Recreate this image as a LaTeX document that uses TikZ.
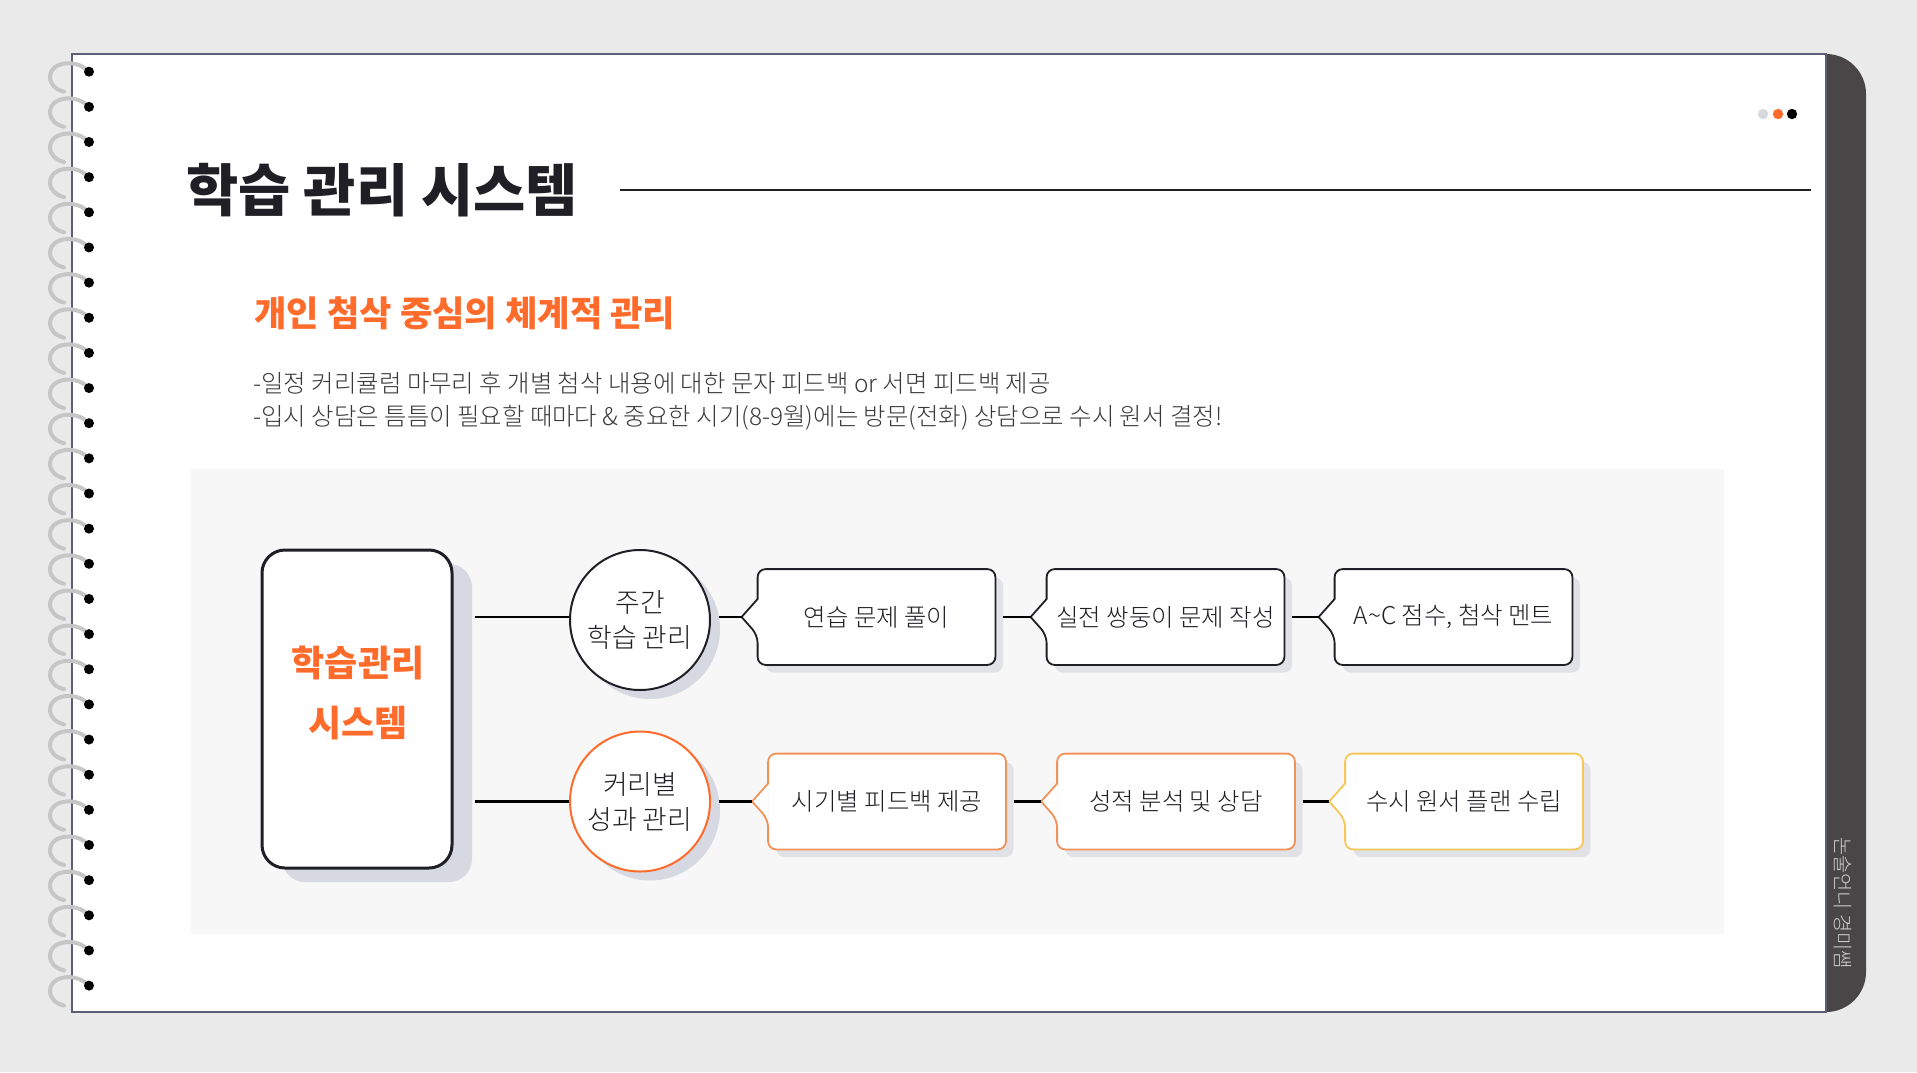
\documentclass[tikz,border=0pt]{standalone}
\usepackage{fontspec}
\setmainfont{Noto Sans CJK KR}
\IfFontExistsTF{Noto Sans CJK KR Light}
  {\newfontfamily\lightfont{Noto Sans CJK KR Light}}
  {\newfontfamily\lightfont{Noto Sans CJK KR}}
\usetikzlibrary{shadows}
\definecolor{bggrey}{HTML}{EAEAEA}
\definecolor{pageline}{HTML}{5C5E78}
\definecolor{tabdark}{HTML}{4A4546}
\definecolor{tabtext}{HTML}{D2CECE}
\definecolor{ringgrey}{HTML}{C6C6C6}
\definecolor{ink}{HTML}{1F1F25}
\definecolor{bodyink}{HTML}{3A3A3A}
\definecolor{accent}{HTML}{FF6B2B}
\definecolor{accentsoft}{HTML}{F0925A}
\definecolor{accentgold}{HTML}{F6C657}
\definecolor{panelfill}{HTML}{F8F7F8}
\definecolor{shadowfill}{HTML}{D6D9E1}
\definecolor{boxshadow}{HTML}{E1E2E6}
\definecolor{dotgrey}{HTML}{D8D9DE}
\tikzset{
  sysblk/.style = {rectangle, rounded corners=11.5pt, draw=ink, fill=white, line width=1.5pt,
                   minimum width=95pt, minimum height=159pt,
                   general shadow={fill=shadowfill, shadow xshift=10pt, shadow yshift=-7pt}},
  hub/.style    = {circle, draw=ink, fill=white, line width=1pt, minimum size=70pt, inner sep=0pt,
                   align=center, font=\lightfont\fontsize{13.4}{17.5}\selectfont, text=ink,
                   general shadow={fill=shadowfill, shadow xshift=5pt, shadow yshift=-4.5pt}},
  taskbox/.style= {rectangle, rounded corners=4pt, fill=white, minimum width=118.5pt,
                   minimum height=47.5pt, inner sep=0pt, font=\lightfont\fontsize{12.2}{14}\selectfont, text=ink,
                   general shadow={fill=boxshadow, shadow xshift=4pt, shadow yshift=-4pt}},
  wire/.style   = {line width=1.25pt, draw=black},
}
\begin{document}
\begin{tikzpicture}[x=0.5pt, y=-0.5pt]
  \fill[bggrey] (0,0) rectangle (1917,1072);
  \useasboundingbox (0,0) rectangle (1917,1072);
  % notebook page
  \fill[tabdark, rounded corners=20pt] (1780,54) rectangle (1866,1012);
  \filldraw[fill=white, draw=pageline, line width=1pt] (72,54) rectangle (1826,1012);
  \foreach \i in {0,...,26}{
    \pgfmathsetmacro\ry{71.7+35.15*\i}
    \draw[ringgrey, line width=2pt, line cap=round] (88,\ry) .. controls (80,\ry-12) and (51,\ry-12) .. (50,\ry+5)
      .. controls (50,\ry+13) and (56,\ry+18) .. (64,\ry+20);
    \fill[black] (89,\ry) circle (2.5pt);
  }
  \fill[dotgrey] (1763,114) circle (2.6pt);
  \fill[accent] (1778,114) circle (2.6pt);
  \fill[black] (1792,114) circle (2.6pt);
  \node[rotate=-90, text=tabtext, font=\lightfont\fontsize{9.9}{11}\selectfont] (brand) at (1843,903) {논술언니 경미쌤};

  % heading
  \node[anchor=west, inner sep=0pt, text=ink, font=\fontsize{28.4}{32}\selectfont\bfseries] (title) at (186,190) {학습 관리 시스템};
  \draw[ink, line width=1pt] (620,190) -- (1811,190);
  \node[anchor=west, inner sep=0pt, text=accent, font=\fontsize{17.6}{20}\selectfont\bfseries] (sub) at (254,313) {개인 첨삭 중심의 체계적 관리};
  \node[anchor=west, inner sep=0pt, text=bodyink, align=left, font=\lightfont\fontsize{12.2}{16.5}\selectfont] (body) at (253,401)
    {-일정 커리큘럼 마무리 후 개별 첨삭 내용에 대한 문자 피드백 or 서면 피드백 제공\\
     -입시 상담은 틈틈이 필요할 때마다 \& 중요한 시기(8-9월)에는 방문(전화) 상담으로 수시 원서 결정!};

  % diagram
  \fill[panelfill] (191,469) rectangle (1724,934);
  \node[sysblk] (sys) at (357,709) {};
  \node[text=accent, align=center, font=\fontsize{18}{30}\selectfont\bfseries] (syslbl) at (358,693) {학습관리\\시스템};
  \node[hub] (week) at (640,620) {주간\\학습 관리};
  \node[hub, draw=accent] (perf) at (640,801.5) {커리별\\성과 관리};
  \node[taskbox] (t1) at (876.5,617) {연습 문제 풀이};
  \node[taskbox] (t2) at (1165.5,617) {실전 쌍둥이 문제 작성};
  \node[taskbox] (t3) at (1453.5,617) {A\textasciitilde C 점수, 첨삭 멘트};
  \node[taskbox] (t4) at (887,801.5) {시기별 피드백 제공};
  \node[taskbox] (t5) at (1176,801.5) {성적 분석 및 상담};
  \node[taskbox] (t6) at (1464,801.5) {수시 원서 플랜 수립};
  \foreach \n/\c in {t1/ink,t2/ink,t3/ink,t4/accentsoft,t5/accentsoft,t6/accentgold}{
    \fill[white] ([yshift=9pt]\n.west) -- ([xshift=-8pt]\n.west) -- ([yshift=-9pt]\n.west) -- cycle;
    \draw[\c, line width=0.9pt] ([yshift=9pt]\n.west) [rounded corners=4pt] -- (\n.north west) -- (\n.north east)
      -- (\n.south east) -- (\n.south west) -- ([yshift=-9pt]\n.west) [sharp corners] -- ([xshift=-8pt]\n.west) -- cycle;
  }
  \draw[wire] ([xshift=10.5pt]sys.east |- t1.west) -- (week.west |- t1.west);
  \draw[wire] ([xshift=10.5pt]sys.east |- perf.west) -- (perf.west);
  \draw[wire] ([xshift=4pt]week.east |- t1.west) -- ([xshift=-8pt]t1.west);
  \draw[wire] ([xshift=4pt]perf.east) -- ([xshift=-8pt]t4.west);
  \foreach \a/\b in {t1/t2,t2/t3,t4/t5,t5/t6}{\draw[wire] ([xshift=4pt]\a.east) -- ([xshift=-8pt]\b.west);}
\end{tikzpicture}
\end{document}
